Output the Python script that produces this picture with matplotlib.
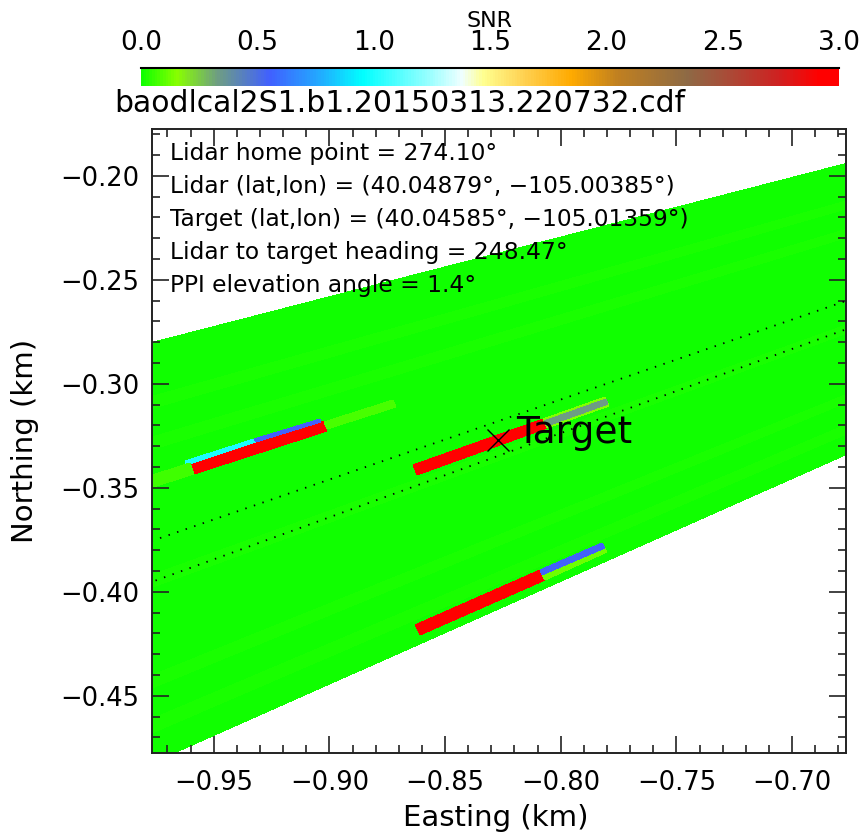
import numpy as np
import matplotlib
matplotlib.use('Agg')
import matplotlib.pyplot as plt
from matplotlib.colors import LinearSegmentedColormap, Normalize
from matplotlib.ticker import MultipleLocator, AutoMinorLocator

# SNR colour table (value -> colour)
cmap_pos = [0.0, 0.15, 0.32, 0.55, 0.78, 0.95, 1.25, 1.38, 1.47, 1.65, 1.85, 2.05, 2.35, 2.5, 2.75, 2.92, 3.0]
cmap_cols = ['#10ff00', '#88ff00', '#6f9f80', '#4060ff', '#20b0ff', '#00ffff', '#a0ffff', '#f0ffff',
             '#ffff90', '#ffd050', '#ffaa00', '#c08020', '#8e6a45', '#a5503a', '#d02020', '#ff0000', '#ff0000']

# PPI sector (compass azimuth, deg) and range (km)
sector_az = [243.73, 254.0]
sector_range = [0.6, 1.2]
bg_snr = [0.010, 0.005, 0.012, 0.002, 0.008, 0.014, 0.004, 0.009, 0.001, 0.011,
          0.007, 0.003, 0.012, 0.006, 0.000, 0.009, 0.004, 0.011, 0.007, 0.003,
          0.010, 0.005, 0.013, 0.002, 0.008, 0.012, 0.004, 0.009, 0.006, 0.010]

# strong returns: azimuth band, range band, SNR
streak_az_lo = [250.30, 250.60, 250.60, 250.34, 250.30, 248.25, 248.25, 248.32, 243.96, 243.96, 244.12]
streak_az_hi = [250.60, 250.69, 250.69, 250.57, 250.60, 248.56, 248.57, 248.50, 244.28, 244.12, 244.28]
streak_r_lo = [0.957, 0.988, 0.958, 0.925, 1.018, 0.8675, 0.839, 0.839, 0.898, 0.868, 0.868]
streak_r_hi = [1.018, 1.020, 0.988, 0.957, 1.060, 0.928, 0.8675, 0.8675, 0.958, 0.898, 0.898]
streak_snr = [3.0, 1.0, 0.55, 0.08, 0.06, 3.0, 0.15, 0.33, 3.0, 0.12, 0.55]

target_xy = (-0.827, -0.327)
heading = 248.47
info_lines = ['Lidar home point = 274.10\u00b0',
              'Lidar (lat,lon) = (40.04879\u00b0, \u2212105.00385\u00b0)',
              'Target (lat,lon) = (40.04585\u00b0, \u2212105.01359\u00b0)',
              'Lidar to target heading = 248.47\u00b0',
              'PPI elevation angle = 1.4\u00b0']
cbar_ticks = [0.0, 0.5, 1.0, 1.5, 2.0, 2.5, 3.0]


def polar_to_xy(az, r):
    a = np.deg2rad(az)
    return r * np.sin(a), r * np.cos(a)


cmap = LinearSegmentedColormap.from_list('snr', list(zip(np.array(cmap_pos) / 3.0, cmap_cols)))
norm = Normalize(vmin=0.0, vmax=3.0)

fig = plt.figure(figsize=(8.6, 8.35), dpi=100)
ax = fig.add_axes([152 / 860, 1 - 753 / 835, 694 / 860, 624 / 835])

# background sector
az_edges = np.linspace(sector_az[0], sector_az[1], len(bg_snr) + 1)
AZ, R = np.meshgrid(az_edges, sector_range)
X, Y = polar_to_xy(AZ, R)
mesh = ax.pcolormesh(X, Y, np.array([bg_snr]), cmap=cmap, norm=norm, shading='flat',
                     antialiased=False, linewidth=0)

# strong returns on top
for i in range(len(streak_snr)):
    AZ, R = np.meshgrid([streak_az_lo[i], streak_az_hi[i]], [streak_r_lo[i], streak_r_hi[i]])
    X, Y = polar_to_xy(AZ, R)
    ax.pcolormesh(X, Y, np.array([[streak_snr[i]]]), cmap=cmap, norm=norm, shading='flat',
                  antialiased=False, linewidth=0)

# heading +/- 0.5 deg guide lines
for off in (-0.5, 0.5):
    x, y = polar_to_xy(np.array([heading + off] * 2), np.array(sector_range))
    ax.plot(x, y, color='black', lw=1.3, linestyle=(0, (0.8, 4.2)))

ax.plot(*target_xy, marker='x', color='black', markersize=16, markeredgewidth=1.0)
ax.annotate('Target', xy=target_xy, xytext=(13, -2), textcoords='offset points',
            fontsize=27, ha='left', va='baseline', color='black')

for i, line in enumerate(info_lines):
    ax.text(0.026, 0.9615 - i * 0.0532, line, transform=ax.transAxes, fontsize=16.8,
            ha='left', va='center', color='black')

ax.set_xlim(-0.9767, -0.6767)
ax.set_ylim(-0.4775, -0.1775)
ax.xaxis.set_major_locator(MultipleLocator(0.05))
ax.yaxis.set_major_locator(MultipleLocator(0.05))
ax.xaxis.set_minor_locator(AutoMinorLocator(5))
ax.yaxis.set_minor_locator(AutoMinorLocator(5))
ax.xaxis.set_major_formatter(plt.FuncFormatter(lambda v, p: f'{v:.2f}'.replace('-', '\u2212')))
ax.yaxis.set_major_formatter(plt.FuncFormatter(lambda v, p: f'{v:.2f}'.replace('-', '\u2212')))
ax.tick_params(which='both', direction='in', top=True, right=True, colors='#222222', width=1.2)
ax.tick_params(which='major', length=12, labelsize=18.5, labelcolor='black')
ax.tick_params(which='minor', length=6)
ax.tick_params(axis='x', which='major', pad=12)
ax.tick_params(axis='y', which='major', pad=9)
for s in ax.spines.values():
    s.set_color('#222222')
    s.set_linewidth(1.4)

fig.text(496 / 860, 1 - 818 / 835, 'Easting (km)', fontsize=21, ha='center', va='center')
fig.text(25 / 860, 1 - 441 / 835, 'Northing (km)', fontsize=21, ha='center', va='center',
         rotation=90)

# colour bar on top
cax = fig.add_axes([141 / 860, 1 - 86 / 835, 698 / 860, 18 / 835])
cb = fig.colorbar(mesh, cax=cax, orientation='horizontal', ticks=cbar_ticks)
cb.outline.set_visible(False)
cax.xaxis.set_ticks_position('top')
cax.xaxis.set_label_position('top')
cax.set_xticklabels([f'{t:.1f}' for t in cbar_ticks])
cax.tick_params(length=0, pad=9, labelsize=19)
cax.plot([0, 1], [1, 1], transform=cax.transAxes, color='black', lw=1.5, clip_on=False)
fig.text(490 / 860, 1 - 21 / 835, 'SNR', fontsize=16, ha='center', va='center')
fig.text(114 / 860, 1 - 104 / 835, 'baodlcal2S1.b1.20150313.220732.cdf', fontsize=21.5,
         ha='left', va='center')

fig.savefig('out.png', dpi=100)
